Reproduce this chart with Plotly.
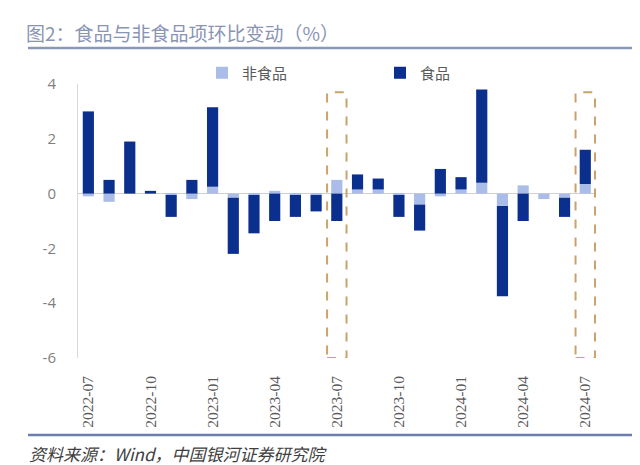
import plotly.graph_objects as go

months = ["2022-07", "2022-08", "2022-09", "2022-10", "2022-11", "2022-12",
          "2023-01", "2023-02", "2023-03", "2023-04", "2023-05", "2023-06",
          "2023-07", "2023-08", "2023-09", "2023-10", "2023-11", "2023-12",
          "2024-01", "2024-02", "2024-03", "2024-04", "2024-05", "2024-06",
          "2024-07"]
nonfood = [-0.1, -0.3, 0.0, 0.0, -0.05, -0.2,
           0.25, -0.15, -0.05, 0.1, -0.05, -0.05,
           0.5, 0.15, 0.15, -0.05, -0.4, -0.1,
           0.15, 0.4, -0.45, 0.3, -0.2, -0.15,
           0.35]
food = [3.0, 0.5, 1.9, 0.1, -0.8, 0.5,
        2.9, -2.05, -1.4, -1.0, -0.8, -0.6,
        -1.0, 0.55, 0.4, -0.8, -0.95, 0.9,
        0.45, 3.4, -3.3, -1.0, 0.0, -0.7,
        1.25]
xtick_labels = ["2022-07", "2022-10", "2023-01", "2023-04", "2023-07",
                "2023-10", "2024-01", "2024-04", "2024-07"]
ytick_vals = [-6, -4, -2, 0, 2, 4]
ytick_text = ["-6", "-4", "-2", "0", "2", "4"]
highlight = ["2023-07", "2024-07"]
box_top = 3.7
box_bottom = -6

C_FOOD = "#0b2f8d"
C_NONFOOD = "#a9bde8"

W, H = 640, 465
ML, MR, MT, MB = 78, 44, 84, 107
PW = W - ML - MR
PH = H - MT - MB


def px_x(p):
    return (p - ML) / PW


def px_y(p):
    return (H - MB - p) / PH


fig = go.Figure()
fig.add_trace(go.Bar(x=months, y=nonfood, name="非食品",
                     marker=dict(color=C_NONFOOD, line=dict(width=0))))
fig.add_trace(go.Bar(x=months, y=food, name="食品",
                     marker=dict(color=C_FOOD, line=dict(width=0))))

for m in highlight:
    i = months.index(m)
    fig.add_shape(type="rect", xref="x", yref="y",
                  x0=i - 0.47, x1=i + 0.47, y0=box_bottom, y1=box_top,
                  line=dict(color="#c9a36b", width=2, dash="dash"),
                  fillcolor="rgba(0,0,0,0)", layer="above")

# header / footer rules
fig.add_shape(type="line", xref="paper", yref="paper",
              x0=px_x(28), x1=px_x(632), y0=px_y(48), y1=px_y(48),
              line=dict(color="#8b97b8", width=2.5))
fig.add_shape(type="line", xref="paper", yref="paper",
              x0=px_x(28), x1=px_x(632), y0=px_y(435), y1=px_y(435),
              line=dict(color="#6c7fae", width=2.5))

fig.add_annotation(text="图2：食品与非食品项环比变动（%）", xref="paper", yref="paper",
                   x=px_x(24), y=px_y(32), xanchor="left", yanchor="middle",
                   showarrow=False,
                   font=dict(family="Noto Sans CJK SC", size=19, color="#8a94b4"))
fig.add_annotation(text="<i>资料来源：Wind，中国银河证券研究院</i>", xref="paper", yref="paper",
                   x=px_x(27), y=px_y(453), xanchor="left", yanchor="middle",
                   showarrow=False,
                   font=dict(family="Noto Sans CJK SC", size=17, color="#404040"))

fig.update_layout(
    width=W, height=H,
    margin=dict(l=ML, r=MR, t=MT, b=MB, autoexpand=False),
    paper_bgcolor="white", plot_bgcolor="white",
    barmode="relative", bargap=0.46,
    showlegend=True,
    legend=dict(orientation="h", xref="container", yref="container",
                x=202 / W, y=1 - 73 / H, xanchor="left", yanchor="middle",
                entrywidth=133, entrywidthmode="pixels",
                font=dict(family="Noto Sans CJK SC", size=15, color="#595959"),
                bgcolor="rgba(0,0,0,0)", itemclick=False),
    font=dict(family="Noto Sans CJK SC"),
    xaxis=dict(type="category", categoryorder="array", categoryarray=months,
               tickmode="array", tickvals=xtick_labels, ticktext=xtick_labels,
               tickangle=-90, ticks="", showline=False, showgrid=False,
               zeroline=False, ticklabelstandoff=14, automargin=False,
               tickfont=dict(family="Liberation Serif", size=15.5, color="#595959")),
    yaxis=dict(range=[-6, 4], tickmode="array", tickvals=ytick_vals,
               ticktext=ytick_text, showgrid=False, automargin=False,
               showline=True, linecolor="#d9d9d9", linewidth=1,
               zeroline=True, zerolinecolor="#d0d0d0", zerolinewidth=1,
               ticks="", ticklabelstandoff=18,
               tickfont=dict(family="Open Sans", size=15, color="#7f7f7f")),
)

fig.write_html("out.html", config={"displayModeBar": False},
               post_script="document.body.style.margin='0';")
